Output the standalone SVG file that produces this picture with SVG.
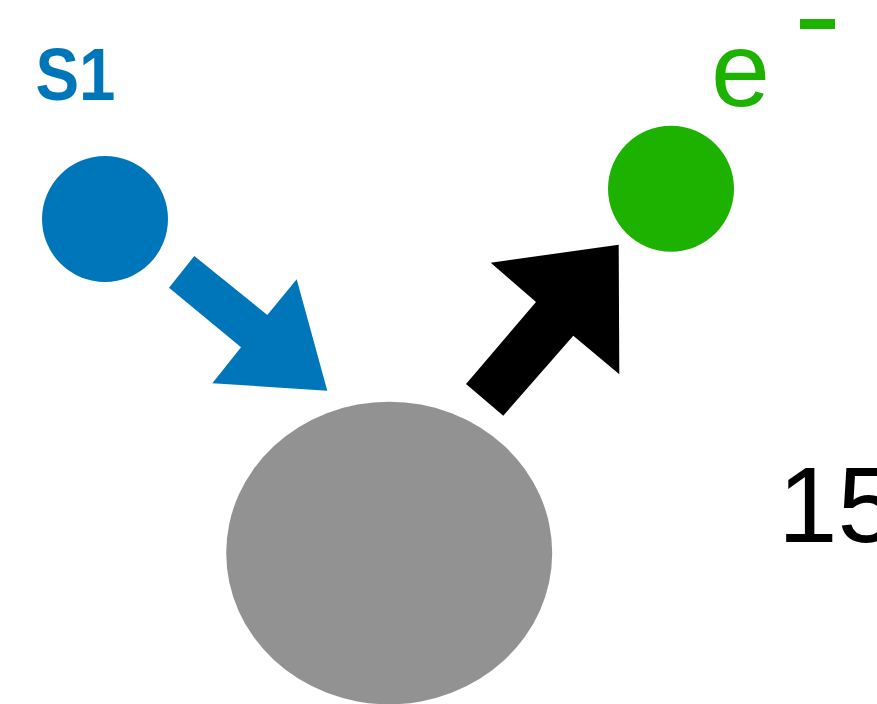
<svg xmlns="http://www.w3.org/2000/svg" width="877" height="704" viewBox="0 0 877 704">
<style>
.lbl{font-family:"Liberation Sans",Arial,sans-serif}
.blue{fill:#0076BA}
.green{fill:#1DB100}
</style>
<rect width="877" height="704" fill="#fff"/>
<g id="connectors">
<polygon class="blue" points="169,287.7 194.3,256 267.3,315 296.7,279.3 327.3,390.7 212.3,383.3 241,347.3"/>
<polygon fill="#000" points="466,384 503.3,415.7 573.3,335.7 619.3,374.3 618.7,244.7 490.7,262.7 536,302"/>
</g>
<g id="s1">
<circle class="blue" cx="105" cy="219" r="63"/>
<text class="lbl blue" x="35.5" y="100" font-size="74" font-weight="bold" textLength="80" lengthAdjust="spacingAndGlyphs">S1</text>
</g>
<g id="electron">
<circle class="green" cx="671" cy="188.7" r="63"/>
<text class="lbl green" x="711" y="106" font-size="106">e</text>
<rect class="green" x="800" y="19" width="35" height="10"/>
</g>
<g id="center">
<ellipse cx="389.2" cy="553" rx="163" ry="151.3" fill="#929292"/>
</g>
<g id="value">
<text class="lbl" x="778" y="541.7" font-size="107" fill="#000">15</text>
</g>
</svg>
